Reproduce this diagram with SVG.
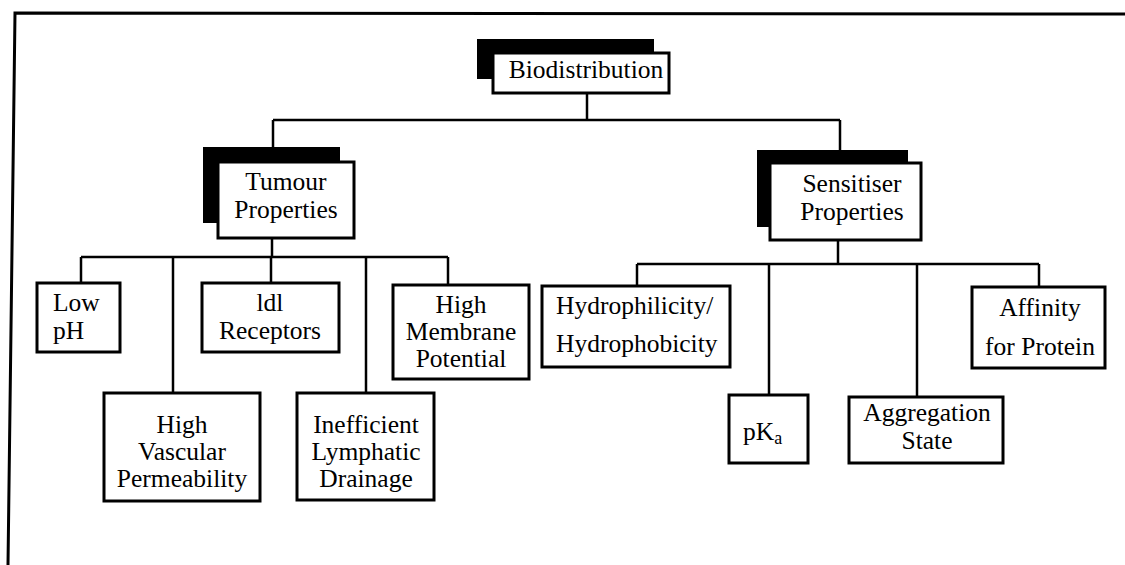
<svg xmlns="http://www.w3.org/2000/svg" width="1125" height="565" viewBox="0 0 1125 565">
<style>
.frame{fill:none;stroke:#000;stroke-width:3}
.box{fill:#fff;stroke:#000;stroke-width:3}
.shadow{fill:#000;stroke:none}
.conn{fill:none;stroke:#000;stroke-width:2.5}
text{font-family:"Liberation Serif","Times New Roman",serif;font-size:25.5px;fill:#000}
.c{text-anchor:middle}
</style>
<rect width="1125" height="565" fill="#fff"/>
<path class="frame" d="M1125 14 L15 13 L8 565"/>
<g id="connectors">
<path class="conn" d="M587 93 V120"/>
<path class="conn" d="M273 120 H840"/>
<path class="conn" d="M273 120 V147"/>
<path class="conn" d="M840 120 V150"/>
<path class="conn" d="M272 238 V257"/>
<path class="conn" d="M81 257 H448"/>
<path class="conn" d="M81 257 V283"/>
<path class="conn" d="M173 257 V393"/>
<path class="conn" d="M271 257 V283"/>
<path class="conn" d="M366 257 V393"/>
<path class="conn" d="M448 257 V285"/>
<path class="conn" d="M838 240 V264"/>
<path class="conn" d="M637 264 H1039"/>
<path class="conn" d="M637 264 V286"/>
<path class="conn" d="M769 264 V395"/>
<path class="conn" d="M917 264 V397"/>
<path class="conn" d="M1039 264 V287"/>
</g>
<g id="biodistribution">
<rect class="shadow" x="477" y="39" width="177" height="40"/>
<rect class="box" x="493" y="53" width="176" height="40"/>
<text class="c" x="586" y="78">Biodistribution</text>
</g>
<g id="tumour">
<rect class="shadow" x="203" y="147" width="137" height="76"/>
<rect class="box" x="218" y="162" width="136" height="76"/>
<text class="c" x="286" y="190">Tumour</text>
<text class="c" x="286" y="218">Properties</text>
</g>
<g id="sensitiser">
<rect class="shadow" x="757" y="150" width="151" height="77"/>
<rect class="box" x="770" y="163" width="151" height="77"/>
<text class="c" x="852" y="192">Sensitiser</text>
<text class="c" x="852" y="220">Properties</text>
</g>
<g id="lowph">
<rect class="box" x="37" y="283" width="83" height="69"/>
<text x="53" y="311">Low</text>
<text x="53" y="339">pH</text>
</g>
<g id="ldl">
<rect class="box" x="202" y="283" width="137" height="69"/>
<text class="c" x="270" y="311">ldl</text>
<text class="c" x="270" y="339">Receptors</text>
</g>
<g id="vascular">
<rect class="box" x="104" y="393" width="156" height="108"/>
<text class="c" x="182" y="433">High</text>
<text class="c" x="182" y="460">Vascular</text>
<text class="c" x="182" y="487">Permeability</text>
</g>
<g id="lymphatic">
<rect class="box" x="297" y="393" width="137" height="107"/>
<text class="c" x="366" y="433">Inefficient</text>
<text class="c" x="366" y="460">Lymphatic</text>
<text class="c" x="366" y="487">Drainage</text>
</g>
<g id="membrane">
<rect class="box" x="393" y="285" width="136" height="94"/>
<text class="c" x="461" y="313">High</text>
<text class="c" x="461" y="340">Membrane</text>
<text class="c" x="461" y="367">Potential</text>
</g>
<g id="hydro">
<rect class="box" x="542" y="286" width="188" height="81"/>
<text x="556" y="314">Hydrophilicity/</text>
<text x="556" y="352">Hydrophobicity</text>
</g>
<g id="pka">
<rect class="box" x="729" y="395" width="79" height="68"/>
<text x="743" y="440">pK<tspan font-size="18" dy="4">a</tspan></text>
</g>
<g id="aggregation">
<rect class="box" x="849" y="397" width="154" height="66"/>
<text class="c" x="927" y="421">Aggregation</text>
<text class="c" x="927" y="449">State</text>
</g>
<g id="affinity">
<rect class="box" x="972" y="287" width="133" height="81"/>
<text class="c" x="1040" y="316">Affinity</text>
<text class="c" x="1040" y="355">for Protein</text>
</g>
</svg>
